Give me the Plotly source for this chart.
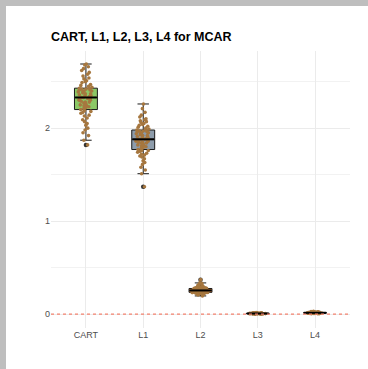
import numpy as np
import plotly.graph_objects as go

categories = ["CART", "L1", "L2", "L3", "L4"]

cart_vals = [1.82, 1.87, 1.92, 1.95, 1.98, 2.00, 2.03, 2.05, 2.07, 2.09, 2.11, 2.13, 2.14, 2.16, 2.17, 2.18, 2.19,
             2.20, 2.21, 2.22, 2.23, 2.24, 2.24, 2.25, 2.26, 2.27, 2.28, 2.28, 2.29, 2.30, 2.30, 2.31, 2.32, 2.32, 2.33,
             2.33, 2.34, 2.35, 2.35, 2.36, 2.37, 2.37, 2.38, 2.39, 2.39, 2.40, 2.40, 2.41, 2.41, 2.42, 2.42, 2.43, 2.43,
             2.44, 2.45, 2.46, 2.47, 2.49, 2.50, 2.51, 2.53, 2.54, 2.56, 2.58, 2.60, 2.62, 2.64, 2.66, 2.68, 2.69]

l1_vals = [1.37, 1.51, 1.55, 1.58, 1.61, 1.63, 1.65, 1.67, 1.69, 1.70, 1.71, 1.72, 1.73, 1.74, 1.75, 1.76, 1.76,
           1.77, 1.78, 1.79, 1.80, 1.81, 1.81, 1.82, 1.83, 1.84, 1.84, 1.85, 1.85, 1.86, 1.86, 1.87, 1.87, 1.88, 1.88,
           1.88, 1.89, 1.90, 1.90, 1.91, 1.92, 1.92, 1.93, 1.94, 1.94, 1.95, 1.95, 1.96, 1.96, 1.97, 1.97, 1.98, 1.98,
           1.99, 2.00, 2.01, 2.02, 2.03, 2.04, 2.05, 2.06, 2.07, 2.08, 2.09, 2.10, 2.12, 2.14, 2.17, 2.21, 2.26]

l2_vals = [0.195, 0.205, 0.210, 0.215, 0.218, 0.220, 0.222, 0.224, 0.226, 0.227, 0.228, 0.229, 0.230, 0.231, 0.232, 0.232, 0.233,
           0.234, 0.235, 0.237, 0.238, 0.240, 0.241, 0.242, 0.244, 0.245, 0.246, 0.247, 0.248, 0.249, 0.250, 0.251, 0.252, 0.253, 0.254,
           0.254, 0.255, 0.256, 0.258, 0.259, 0.260, 0.262, 0.263, 0.264, 0.265, 0.266, 0.268, 0.269, 0.270, 0.272, 0.273, 0.274, 0.275,
           0.276, 0.278, 0.280, 0.282, 0.284, 0.286, 0.288, 0.290, 0.293, 0.296, 0.300, 0.305, 0.310, 0.318, 0.330, 0.335, 0.370]

l3_vals = [0.000, 0.001, 0.001, 0.002, 0.002, 0.002, 0.003, 0.003, 0.003, 0.003, 0.004, 0.004, 0.004, 0.004, 0.005,
           0.005, 0.005, 0.005, 0.005, 0.006, 0.006, 0.006, 0.006, 0.006, 0.007, 0.007, 0.007, 0.007, 0.008, 0.008,
           0.008, 0.008, 0.009, 0.009, 0.009, 0.010, 0.010, 0.010, 0.011, 0.011, 0.012, 0.012, 0.013, 0.014, 0.015]

l4_vals = [0.003, 0.004, 0.005, 0.006, 0.006, 0.007, 0.007, 0.008, 0.008, 0.009, 0.009, 0.010, 0.010, 0.010, 0.011,
           0.011, 0.011, 0.012, 0.012, 0.012, 0.013, 0.013, 0.013, 0.014, 0.014, 0.014, 0.015, 0.015, 0.015, 0.016,
           0.016, 0.017, 0.017, 0.018, 0.018, 0.019, 0.019, 0.020, 0.021, 0.022, 0.023, 0.024, 0.025, 0.027, 0.029]

series = [cart_vals, l1_vals, l2_vals, l3_vals, l4_vals]
box_colors = ["#8cc866", "#8d9cab", "#e8893a", "#e4563f", "#d34c3a"]
reference_value = 0
title_text = "CART, L1, L2, L3, L4 for MCAR"

W, H = 368, 369
ml, mr, mt, mb = 51, 18, 51, 41
pw, ph = W - ml - mr, H - mt - mb

fig = go.Figure()
for cat, vals, col in zip(categories, series, box_colors):
    fig.add_trace(go.Box(
        x=[cat] * len(vals), y=vals, width=0.4,
        fillcolor=col, line=dict(color="#1a1a1a", width=1),
        boxpoints="outliers",
        marker=dict(color="#333333", size=4.5, line=dict(width=0)),
        showlegend=False, hoverinfo="skip",
    ))

# thicker median bar (as ggplot draws it), computed from the data
fig.add_trace(go.Scatter(
    x=categories, y=[float(np.median(v)) for v in series], mode="markers",
    marker=dict(symbol="line-ew", size=15.5, color="black", line=dict(color="black", width=2)),
    showlegend=False, hoverinfo="skip",
))

for cat, vals in zip(categories, series):
    fig.add_trace(go.Box(
        x=[cat] * len(vals), y=vals, width=0.4,
        fillcolor="rgba(0,0,0,0)", line=dict(color="rgba(0,0,0,0)", width=0),
        boxpoints="all", jitter=0.75, pointpos=0,
        marker=dict(color="#a6773f", size=3.6, line=dict(width=0)),
        showlegend=False, hoverinfo="skip",
    ))

shapes = [
    dict(type="line", xref="paper", yref="y", x0=0, x1=1, y0=reference_value, y1=reference_value,
         line=dict(color="#f4826f", width=1.2, dash="dot"), layer="above"),
    dict(type="rect", xref="paper", yref="paper", x0=-ml / pw - 0.01, x1=(W - ml) / pw + 0.01,
         y0=1 + (mt - 6) / ph, y1=1 + mt / ph + 0.01, fillcolor="#bebebe", line=dict(width=0), layer="below"),
    dict(type="rect", xref="paper", yref="paper", x0=-ml / pw - 0.01, x1=-(ml - 6) / pw,
         y0=-mb / ph - 0.01, y1=1 + mt / ph + 0.01, fillcolor="#bebebe", line=dict(width=0), layer="below"),
]

fig.update_layout(
    width=W, height=H,
    margin=dict(l=ml, r=mr, t=mt, b=mb),
    paper_bgcolor="white", plot_bgcolor="white",
    boxmode="overlay",
    title=dict(text="<b>" + title_text + "</b>", x=0, xref="paper", xanchor="left",
               y=1 - 36.5 / H, yref="container", yanchor="middle",
               font=dict(family="Liberation Sans, Arial", size=12.5, color="black")),
    xaxis=dict(categoryorder="array", categoryarray=categories, range=[-0.61, 4.61],
               showgrid=True, gridcolor="#ebebeb", gridwidth=1, zeroline=False, showline=False,
               ticks="", tickfont=dict(family="Liberation Sans, Arial", size=9, color="#4d4d4d")),
    yaxis=dict(range=[-0.15, 2.83], tickvals=[0, 1, 2], showgrid=True, gridcolor="#ebebeb", gridwidth=1,
               zeroline=False, showline=False, ticks="",
               minor=dict(tickvals=[0.5, 1.5, 2.5], showgrid=True, gridcolor="#f2f2f2", gridwidth=1),
               tickfont=dict(family="Liberation Sans, Arial", size=9, color="#4d4d4d")),
    shapes=shapes,
)

fig.write_html(
    "out.html",
    config={"displayModeBar": False},
    post_script="document.body.style.margin='0';document.body.style.overflow='hidden';",
)
